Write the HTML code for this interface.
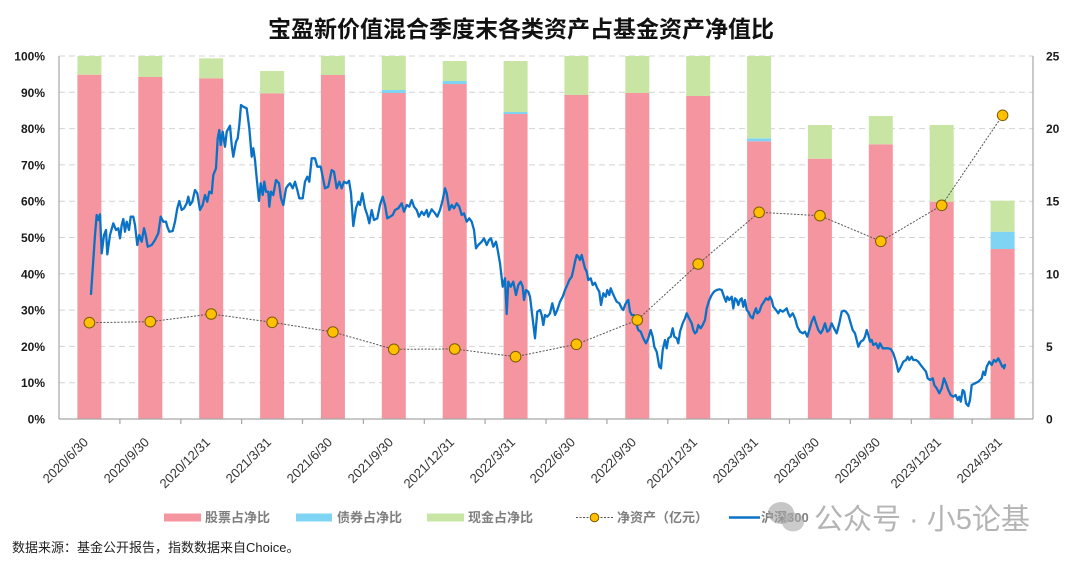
<!DOCTYPE html>
<html><head><meta charset="utf-8"><style>
html,body{margin:0;padding:0;background:#fff;}
svg{display:block;font-family:"Liberation Sans","Noto Sans CJK SC",sans-serif;}
</style></head><body>
<svg width="1080" height="562" viewBox="0 0 1080 562" xmlns="http://www.w3.org/2000/svg">
<rect width="1080" height="562" fill="#fff"/>
<text x="521" y="37" text-anchor="middle" font-size="23" font-weight="bold" fill="#111">宝盈新价值混合季度末各类资产占基金资产净值比</text>
<!-- gridlines -->
<g stroke="#d4d4d4" stroke-width="1" stroke-dasharray="6,4">
<line x1="59" x2="1033" y1="382.7" y2="382.7"/><line x1="59" x2="1033" y1="346.4" y2="346.4"/>
<line x1="59" x2="1033" y1="310.1" y2="310.1"/><line x1="59" x2="1033" y1="273.8" y2="273.8"/>
<line x1="59" x2="1033" y1="237.5" y2="237.5"/><line x1="59" x2="1033" y1="201.2" y2="201.2"/>
<line x1="59" x2="1033" y1="164.9" y2="164.9"/><line x1="59" x2="1033" y1="128.6" y2="128.6"/>
<line x1="59" x2="1033" y1="92.3" y2="92.3"/><line x1="59" x2="1033" y1="56" y2="56"/>
</g>
<!-- bars -->
<g>
<rect x="77.4" y="74.7" width="24" height="344.3" fill="#f5959f"/><rect x="77.4" y="56" width="24" height="18.7" fill="#c9e5a3"/>
<rect x="138.3" y="77" width="24" height="342" fill="#f5959f"/><rect x="138.3" y="56" width="24" height="21" fill="#c9e5a3"/>
<rect x="199.2" y="78.3" width="24" height="340.7" fill="#f5959f"/><rect x="199.2" y="58.3" width="24" height="20" fill="#c9e5a3"/>
<rect x="260.1" y="93.3" width="24" height="325.7" fill="#f5959f"/><rect x="260.1" y="71" width="24" height="22.3" fill="#c9e5a3"/>
<rect x="320.9" y="75" width="24" height="344" fill="#f5959f"/><rect x="320.9" y="56" width="24" height="19" fill="#c9e5a3"/>
<rect x="381.8" y="93" width="24" height="326" fill="#f5959f"/><rect x="381.8" y="90" width="24" height="3" fill="#7fd4f4"/><rect x="381.8" y="56" width="24" height="34" fill="#c9e5a3"/>
<rect x="442.7" y="84" width="24" height="335" fill="#f5959f"/><rect x="442.7" y="81" width="24" height="3" fill="#7fd4f4"/><rect x="442.7" y="61" width="24" height="20" fill="#c9e5a3"/>
<rect x="503.6" y="114" width="24" height="305" fill="#f5959f"/><rect x="503.6" y="112" width="24" height="2" fill="#7fd4f4"/><rect x="503.6" y="61" width="24" height="51" fill="#c9e5a3"/>
<rect x="564.4" y="95" width="24" height="324" fill="#f5959f"/><rect x="564.4" y="56" width="24" height="39" fill="#c9e5a3"/>
<rect x="625.3" y="93" width="24" height="326" fill="#f5959f"/><rect x="625.3" y="56" width="24" height="37" fill="#c9e5a3"/>
<rect x="686.2" y="96" width="24" height="323" fill="#f5959f"/><rect x="686.2" y="56" width="24" height="40" fill="#c9e5a3"/>
<rect x="747.1" y="141.3" width="24" height="277.7" fill="#f5959f"/><rect x="747.1" y="138.3" width="24" height="3" fill="#7fd4f4"/><rect x="747.1" y="56" width="24" height="82.3" fill="#c9e5a3"/>
<rect x="807.9" y="158.7" width="24" height="260.3" fill="#f5959f"/><rect x="807.9" y="125" width="24" height="33.7" fill="#c9e5a3"/>
<rect x="868.8" y="144.3" width="24" height="274.7" fill="#f5959f"/><rect x="868.8" y="116" width="24" height="28.3" fill="#c9e5a3"/>
<rect x="929.7" y="201.7" width="24" height="217.3" fill="#f5959f"/><rect x="929.7" y="125" width="24" height="76.7" fill="#c9e5a3"/>
<rect x="990.6" y="249" width="24" height="170" fill="#f5959f"/><rect x="990.6" y="231.7" width="24" height="17.3" fill="#7fd4f4"/><rect x="990.6" y="200.7" width="24" height="31" fill="#c9e5a3"/>
</g>
<!-- axes -->
<g stroke="#a6a6a6" stroke-width="1.2" fill="none">
<line x1="59" y1="56" x2="59" y2="419"/>
<line x1="1033" y1="56" x2="1033" y2="419"/>
<line x1="59" y1="419" x2="1033" y2="419"/>
<path d="M119.9 419v5M180.8 419v5M241.6 419v5M302.5 419v5M363.4 419v5M424.3 419v5M485.1 419v5M546 419v5M606.9 419v5M667.8 419v5M728.6 419v5M789.5 419v5M850.4 419v5M911.3 419v5M972.1 419v5"/>
</g>
<!-- CSI300 line -->
<polyline fill="none" stroke="#0a72c6" stroke-width="2.3" stroke-linejoin="round" stroke-linecap="round" points="91,294 95,235 96.7,215 98.3,220 100,214.3 101.7,253.3 104,235 106,230 107.3,254.3 110,235 113.3,223.3 116,230 118.3,228.3 120,238.3 121.7,225 123.3,219 125,231.7 126.7,221.7 129,230 130.7,216.7 133.3,216.7 135,225 137.3,245 139.3,235 141.7,241.7 144,228.3 145.7,235 147.7,246.7 151.7,245 155,240 158.3,233.3 160.7,216.7 163.3,221.7 166,221.7 167.3,226.7 169.3,231.7 172.7,231 175,221.7 177.3,208.3 179.3,201 181.7,210 184,208.3 186.7,203.3 188.3,196.7 190,205 192.3,201.7 195,190 197.3,193.3 200,210 202.7,205 205,195 207.3,201.7 209.3,191.7 211.7,193.3 213.3,175 216,168.3 217.7,138.3 219.3,130 220.7,145 222.7,131.7 225,146.7 226.7,131.7 230,125.7 231.7,145 233.3,156.7 236,141.7 237.7,138.3 239.3,125 241,105 243.3,106.7 246.7,108.3 249.3,128.3 251.7,156.7 253.3,148.3 255,160 256.7,178.3 259,201 260.7,183.3 262.7,195 264.3,181.7 266,191.7 268.3,191.7 269.3,206.7 271,191.7 273.3,195 276,180 279,183.3 281,198.3 283.3,205 286,188.3 288.3,185 290,183.3 292.7,188.3 295,181.7 297.3,190 299.3,198.3 302.7,198.3 305,181.7 307.3,176.7 309.3,181.7 311.7,158.3 315,158.3 317.3,166.7 320.7,166.7 322.7,176.7 325,188.3 328.3,186.7 331.7,170 334,171.7 336.7,188.3 339.3,181.7 341.7,188.3 344,181.7 346.7,183.3 349,180.7 351,193.3 353.3,226 356,208.3 358.3,201.7 360,205 362.3,193.3 365,208.3 367.3,215 369.3,223.3 371.7,210 374,220 377.3,218.3 380,205 382.7,196.7 385,205 387.3,218.3 390,216.7 392.7,215 395,210 398.3,208.3 401.7,203.3 404,211.7 406.7,205 409.3,206.7 411.7,200 414,206.7 416.7,210 419,216.7 421.7,211.7 424,215 426.7,210 428.3,216.7 431.7,209.3 435,213.3 437.3,216.7 440,210 442.7,200 445,188.3 446.7,193.3 449.3,210 451.7,205 454,208.3 456.7,203.3 459.3,206.7 461.7,215 464,213.3 466.7,221.7 469.3,218.3 471.7,221.7 474,230 476,248.3 478.3,245 481.7,241.7 484,238.3 486.7,245 489,240 491,238.3 493.3,246.7 496,241.7 497.7,250 500,263.3 502.7,286.7 505,278.3 506.7,314 508.3,281.7 510.7,286.7 513.3,281.7 516,295 518.3,285 520.7,281.7 522.7,286.7 524,300 526,290 528.3,291.7 530,296.7 532,313.3 535,338.3 537.3,311.7 540,310 541.7,315 543.3,325 545,315 547.3,316.7 550,313.3 552.3,303.3 555,315 557.3,310 560,301.7 562.7,296.7 565,290 567.3,285 569.3,280 571.7,276.7 573.3,270 575,261.7 576.7,255 578.3,256.7 580,260 581.7,255 583.3,261.7 585,268.3 586.7,271.7 588.3,280 590.7,278.3 592.7,285 595,282.7 597.3,288.3 599.3,291.7 601,305 603.3,293.3 605.7,296.7 607.3,290 609.3,295 610.7,288.3 612.7,293.3 615,298.3 616.7,301.7 619.3,303.3 621.7,308.3 623.3,310 625,305 626.7,301.7 628.3,300 630,311.7 631.7,315 634,315 636,323.3 638.3,330 640.7,331.7 643.3,338.3 646,343.3 648.3,338.3 650.7,330 652.7,336.7 654.3,346.7 656.7,351.7 659.3,366.7 661,368.3 662.7,350 665,340 666.7,348.3 668.3,338.3 670.7,336.7 672.7,328.3 674.3,336.7 676.7,338.3 678.3,343.3 680,331.7 682.7,323.3 685,318.3 686.7,313.3 688.3,316.7 690,320 691.7,323.3 693.3,330 695,333.3 696.7,331.7 698.3,325 700.7,328.3 702.7,325 705,320 706.7,308.3 709.3,300 711.7,295 714,291.7 716.7,290 719.3,289.3 721.7,290 724,296.7 726,301.7 727.3,296.7 729.3,300 731.7,296.7 733.3,308.3 735,298.3 736.7,300 738.3,305 740,300 741.7,298.3 743.3,306.7 745,300 746.7,310 748.3,311.7 750.7,316.7 752.7,318.3 754,313.3 756,308.3 757.3,313.3 759.3,311.7 761.7,305 764,301.7 766,298.3 768.3,300 770,296.7 771.7,300 773.3,306.7 776,310 778.3,313.3 780,310 782.7,311.7 785,310 786.7,308.3 788.3,313.3 790,316.7 792.7,313.3 795,318.3 797.3,326.7 800,331.7 802.7,333.3 805,331.7 807.3,336.7 809.3,330 811.7,321.7 814,316.7 816,323.3 818.3,330 820.7,333.3 822.7,330 825,323.3 827.3,331.7 829.3,330 831.7,323.3 834,328.3 836.7,333.3 839.3,323.3 841.7,311.7 844,310.7 846,311.7 848.3,315 850.7,323.3 852.7,330 855,333.3 856.7,340 858.3,346.7 860.7,341.7 863.3,340 865,336.7 866.7,330 868.3,335 870,341.7 871.7,340 873.3,345 876,343.3 878.3,348.3 880,343.3 882.7,348.3 885,348.3 888.3,348.3 891,349.3 893.3,353.3 896,361.7 898.3,371.7 901,366.7 903.3,361.7 906,360 907.7,356.7 909.3,360 911.7,356.7 913.3,360 916,360 918.3,361.7 920.7,365 923.3,368.3 926,371.7 927.7,378.3 930,380 932.7,378.3 934.3,385 936.7,388.3 939.3,393.3 941.7,388.3 944,378.3 946,383.3 948.3,390 950.7,395 953.3,396.7 955.7,395 957.7,400 959.3,396.7 960.7,401.7 962.7,390 964.3,391.7 966,403.3 968.3,406 970,400 971.7,385 975,383.3 978.3,381.7 981.7,378.3 983.3,371.7 985,375 986.7,366.7 989.3,361.7 991.7,365 994,360 996,361.7 998.3,358.3 1000,361.7 1002.3,366.7 1005,365 1004,368.3"/>
<!-- net asset line -->
<polyline fill="none" stroke="#555" stroke-width="1" stroke-dasharray="2,1.5" points="89.4,322.7 150.3,321.7 211.2,314 272.1,322.3 332.9,332 393.8,349.3 454.7,349 515.6,356.7 576.4,344.3 637.3,320 698.2,264 759.1,212.3 819.9,215.7 880.8,241.3 941.7,205.3 1002.6,115.3"/>
<g fill="#ffc000" stroke="#7a5c00" stroke-width="1">
<circle cx="89.4" cy="322.7" r="5.3"/><circle cx="150.3" cy="321.7" r="5.3"/><circle cx="211.2" cy="314" r="5.3"/><circle cx="272.1" cy="322.3" r="5.3"/>
<circle cx="332.9" cy="332" r="5.3"/><circle cx="393.8" cy="349.3" r="5.3"/><circle cx="454.7" cy="349" r="5.3"/><circle cx="515.6" cy="356.7" r="5.3"/>
<circle cx="576.4" cy="344.3" r="5.3"/><circle cx="637.3" cy="320" r="5.3"/><circle cx="698.2" cy="264" r="5.3"/><circle cx="759.1" cy="212.3" r="5.3"/>
<circle cx="819.9" cy="215.7" r="5.3"/><circle cx="880.8" cy="241.3" r="5.3"/><circle cx="941.7" cy="205.3" r="5.3"/><circle cx="1002.6" cy="115.3" r="5.3"/>
</g>
<!-- y labels -->
<g font-size="12" font-weight="bold" fill="#1a1a1a" text-anchor="end">
<text x="45" y="60.5">100%</text><text x="45" y="96.8">90%</text><text x="45" y="133.1">80%</text><text x="45" y="169.4">70%</text>
<text x="45" y="205.7">60%</text><text x="45" y="242">50%</text><text x="45" y="278.3">40%</text><text x="45" y="314.6">30%</text>
<text x="45" y="350.9">20%</text><text x="45" y="387.2">10%</text><text x="45" y="423.5">0%</text>
</g>
<g font-size="12" font-weight="bold" fill="#1a1a1a">
<text x="1046" y="60.5">25</text><text x="1046" y="133.1">20</text><text x="1046" y="205.7">15</text>
<text x="1046" y="278.3">10</text><text x="1046" y="350.9">5</text><text x="1046" y="423.5">0</text>
</g>
<!-- x labels -->
<g font-size="13" fill="#333" text-anchor="end">
<text transform="translate(89,443) rotate(-45)">2020/6/30</text>
<text transform="translate(150,443) rotate(-45)">2020/9/30</text>
<text transform="translate(211,443) rotate(-45)">2020/12/31</text>
<text transform="translate(272,443) rotate(-45)">2021/3/31</text>
<text transform="translate(333,443) rotate(-45)">2021/6/30</text>
<text transform="translate(394,443) rotate(-45)">2021/9/30</text>
<text transform="translate(455,443) rotate(-45)">2021/12/31</text>
<text transform="translate(516,443) rotate(-45)">2022/3/31</text>
<text transform="translate(576,443) rotate(-45)">2022/6/30</text>
<text transform="translate(637,443) rotate(-45)">2022/9/30</text>
<text transform="translate(698,443) rotate(-45)">2022/12/31</text>
<text transform="translate(759,443) rotate(-45)">2023/3/31</text>
<text transform="translate(820,443) rotate(-45)">2023/6/30</text>
<text transform="translate(881,443) rotate(-45)">2023/9/30</text>
<text transform="translate(942,443) rotate(-45)">2023/12/31</text>
<text transform="translate(1003,443) rotate(-45)">2024/3/31</text>
</g>
<!-- legend -->
<g font-size="13" font-weight="bold" fill="#7f7f7f">
<rect x="164" y="513.5" width="37" height="8" fill="#f5959f"/><text x="205" y="522">股票占净比</text>
<rect x="296" y="513.5" width="36" height="8" fill="#7fd4f4"/><text x="337" y="522">债券占净比</text>
<rect x="427" y="513.5" width="37" height="8" fill="#c9e5a3"/><text x="468" y="522">现金占净比</text>
<line x1="576" y1="517.5" x2="613" y2="517.5" stroke="#555" stroke-width="1" stroke-dasharray="2,1.5"/>
<circle cx="594.5" cy="517.5" r="4.3" fill="#ffc000" stroke="#7a5c00" stroke-width="1"/>
<text x="617" y="522">净资产（亿元）</text>
<line x1="729" y1="517.5" x2="760" y2="517.5" stroke="#0a72c6" stroke-width="2.4"/>
<text x="761" y="522">沪深300</text>
</g>
<!-- watermark -->
<g>
<ellipse cx="781" cy="513" rx="13" ry="11" fill="#a0a0a0" opacity="0.6"/>
<ellipse cx="793" cy="522" rx="11" ry="9.5" fill="#a8a8a8" opacity="0.6"/>
<text x="814" y="529" font-size="29" fill="#b4b4b4">公众号 · 小5论基</text>
</g>
<text x="12" y="552" font-size="13" fill="#222">数据来源：基金公开报告，指数数据来自Choice。</text>
</svg>
</body></html>
